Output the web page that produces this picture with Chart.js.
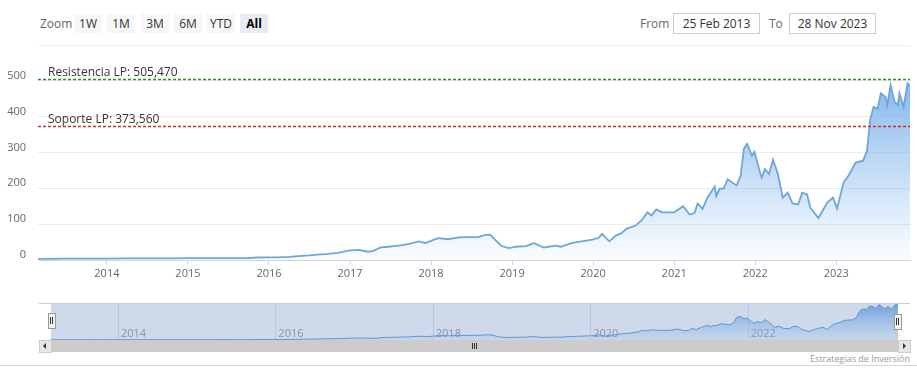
<!DOCTYPE html>
<html>
<head>
<meta charset="utf-8">
<script src="https://cdn.jsdelivr.net/npm/chart.js@4.4.1/dist/chart.umd.min.js"></script>
<style>
  html,body{margin:0;padding:0;background:#fff;width:917px;height:377px;overflow:hidden;font-family:"Open Sans",sans-serif;}
  .abs{position:absolute;}
  .btn{position:absolute;top:14px;height:19px;width:28px;background:#f7f7f7;color:#333;font-size:12px;line-height:19px;text-align:center;}
  .btn.sel{background:#e6ebf5;color:#000;font-weight:bold;}
  .lbl{position:absolute;top:14px;height:19px;line-height:19px;font-size:12px;color:#666;}
  .inp{position:absolute;top:13px;height:19px;line-height:19px;border:1px solid #ccc;font-size:12px;color:#333;text-align:center;}
</style>
</head>
<body>
<div class="lbl" style="left:40px;">Zoom</div>
<div class="btn" style="left:74px;">1W</div>
<div class="btn" style="left:107px;">1M</div>
<div class="btn" style="left:141px;">3M</div>
<div class="btn" style="left:174px;">6M</div>
<div class="btn" style="left:207px;">YTD</div>
<div class="btn sel" style="left:240px;">All</div>
<div class="lbl" style="left:640px;">From</div>
<div class="inp" style="left:673px;width:85px;">25 Feb 2013</div>
<div class="lbl" style="left:769px;">To</div>
<div class="inp" style="left:789px;width:85px;">28 Nov 2023</div>

<canvas id="main" class="abs" style="left:0;top:0;" width="917" height="290"></canvas>

<div class="abs" style="left:39px;top:303px;width:871px;height:1px;background:#ccc;"></div>
<canvas id="nav" class="abs" style="left:51px;top:304px;" width="847" height="36"></canvas>
<!-- navigator handles -->
<div class="abs" style="left:48px;top:313px;width:6px;height:14px;background:#f2f2f2;border:1px solid #999;"></div>
<div class="abs" style="left:50px;top:317px;width:1px;height:7px;background:#333;"></div>
<div class="abs" style="left:52px;top:317px;width:1px;height:7px;background:#333;"></div>
<div class="abs" style="left:894px;top:314px;width:6px;height:14px;background:#f2f2f2;border:1px solid #999;"></div>
<div class="abs" style="left:896px;top:318px;width:1px;height:7px;background:#333;"></div>
<div class="abs" style="left:898px;top:318px;width:1px;height:7px;background:#333;"></div>
<!-- scrollbar -->
<div class="abs" style="left:39px;top:340px;width:871px;height:12px;background:#f2f2f2;"></div>
<div class="abs" style="left:51px;top:340px;width:847px;height:12px;background:#cccccc;"></div>
<div class="abs" style="left:39px;top:340px;width:11px;height:11px;background:#e6e6e6;border:1px solid #ccc;"></div>
<div class="abs" style="left:43px;top:343px;width:0;height:0;border-top:3px solid transparent;border-bottom:3px solid transparent;border-right:3px solid #333;"></div>
<div class="abs" style="left:898px;top:340px;width:11px;height:11px;background:#e6e6e6;border:1px solid #ccc;"></div>
<div class="abs" style="left:903px;top:343px;width:0;height:0;border-top:3px solid transparent;border-bottom:3px solid transparent;border-left:3px solid #333;"></div>
<div class="abs" style="left:472px;top:343px;width:1px;height:6px;background:#333;"></div>
<div class="abs" style="left:474px;top:343px;width:1px;height:6px;background:#333;"></div>
<div class="abs" style="left:476px;top:343px;width:1px;height:6px;background:#333;"></div>

<div class="abs" style="right:7px;top:352px;font-size:9px;color:#999;">Estrategias de Inversión</div>
<div class="abs" style="left:0;top:365px;width:917px;height:1px;background:#d8d8d8;"></div>

<script>
// ---- data (decimal years, price) ----
const timeYears = [
  2013.15,2013.3,2013.45,2013.6,2013.75,2013.9,2014.0,2014.2,2014.4,2014.6,2014.8,
  2015.0,2015.2,2015.4,2015.55,2015.74,2015.85,2016.0,2016.1,2016.25,2016.36,2016.5,
  2016.6,2016.73,2016.85,2016.98,2017.1,2017.22,2017.28,2017.38,2017.47,2017.6,2017.72,
  2017.85,2017.93,2018.03,2018.09,2018.21,2018.34,2018.46,2018.58,2018.67,2018.73,2018.8,
  2018.87,2018.96,2019.05,2019.17,2019.27,2019.39,2019.54,2019.6,2019.73,2019.86,2019.99,
  2020.07,2020.11,2020.2,2020.28,2020.35,2020.41,2020.53,2020.6,2020.67,2020.72,2020.78,
  2020.85,2021.0,2021.11,2021.19,2021.25,2021.29,2021.35,2021.41,2021.5,2021.52,2021.56,
  2021.61,2021.66,2021.77,2021.82,2021.86,2021.9,2021.96,2021.99,2022.06,2022.08,2022.12,
  2022.17,2022.22,2022.28,2022.34,2022.4,2022.46,2022.53,2022.58,2022.64,2022.68,2022.78,
  2022.89,2022.96,2023.01,2023.09,2023.15,2023.24,2023.33,2023.38,2023.42,2023.46,2023.51,
  2023.55,2023.61,2023.63,2023.67,2023.72,2023.76,2023.78,2023.83,2023.88,2023.91
];
const prices = [
  3.2,3.4,3.6,3.7,3.8,3.9,4.0,4.6,4.7,4.6,4.8,
  5.0,5.3,5.5,5.0,5.5,7.0,7.5,7.2,9,11,13,
  15,17,20,26,28,23,25,35,37,40,44,
  52,47,56,61,58,63,64,64,70,71,54,
  39,33,37,39,47,35,40,37,47,52,57,
  62,73,52,68,75,87,97,111,133,124,141,
  133,133,150,127,131,158,143,174,205,178,199,
  199,225,208,235,310,324,291,302,244,230,254,
  240,280,240,174,188,158,155,188,183,146,117,
  160,174,144,216,235,272,277,305,394,427,422,
  465,455,432,488,441,432,465,427,493,486
];
const yearTicks = [2014,2015,2016,2017,2018,2019,2020,2021,2022,2023];
const navYearTicks = [2014,2016,2018,2020,2022];
const priceTicks = [0,100,200,300,400,500,600];
const plotLines = [
  {label:'Resistencia LP: 505,470', value:505.47, color:'#2f8f2f'},
  {label:'Soporte LP: 373,560', value:373.56, color:'#c42f2f'}
];
const X_MIN = 2013.15, X_MAX = 2023.91;
const FONT = '"Open Sans", sans-serif';

const points = timeYears.map((t,i)=>({x:t,y:prices[i]}));

const plotLinePlugin = {
  id:'plotLines',
  afterDatasetsDraw(chart){
    const {ctx, chartArea:a, scales:{y}} = chart;
    ctx.save();
    plotLines.forEach(p=>{
      const py = Math.round(y.getPixelForValue(p.value))+0.5;
      ctx.strokeStyle = p.color; ctx.lineWidth = 1.3; ctx.setLineDash([3,2]);
      ctx.beginPath(); ctx.moveTo(a.left,py); ctx.lineTo(a.right,py); ctx.stroke();
      ctx.setLineDash([]);
      ctx.fillStyle = '#333'; ctx.font = '12px '+FONT; ctx.textBaseline='alphabetic'; ctx.textAlign='left';
      ctx.fillText(p.label, a.left+10, py-4);
    });
    ctx.restore();
  }
};

function mainGradient(ctx, area){
  const g = ctx.createLinearGradient(0, area.top+35, 0, area.bottom);
  g.addColorStop(0,'rgba(110,170,232,0.85)');
  g.addColorStop(1,'rgba(124,181,236,0.03)');
  return g;
}

new Chart(document.getElementById('main'),{
  type:'line',
  data:{datasets:[{data:points, borderColor:'#6ea6dc', borderWidth:1.8, pointRadius:0, tension:0,
    fill:'origin',
    backgroundColor:(c)=>{const a=c.chart.chartArea; if(!a) return 'rgba(124,181,236,0.3)'; return mainGradient(c.chart.ctx,a);} }]},
  options:{
    responsive:false, animation:false, events:[],
    layout:{padding:{top:45,right:7,left:0,bottom:0}},
    plugins:{legend:{display:false}, tooltip:{enabled:false}},
    scales:{
      x:{type:'linear', min:X_MIN, max:X_MAX,
        afterBuildTicks:s=>{s.ticks = yearTicks.map(v=>({value:v}));},
        ticks:{callback:v=>String(v), color:'#666', font:{size:11,family:FONT}, padding:2, maxRotation:0, autoSkip:false},
        grid:{drawOnChartArea:false, drawTicks:true, tickLength:5, color:'#ccd6eb'},
        border:{color:'#ccd6eb'},
        afterFit:s=>{s.height=30;}
      },
      y:{min:0, max:600,
        afterBuildTicks:s=>{s.ticks = priceTicks.map(v=>({value:v}));},
        ticks:{callback:v=> v===600?'':String(v), color:'#666', font:{size:11,family:FONT}, padding:12, labelOffset:-5},
        grid:{color:'#ececec', drawTicks:false},
        border:{display:false},
        afterFit:s=>{s.width=38;}
      }
    }
  },
  plugins:[plotLinePlugin]
});

const navPlugin = {
  id:'navDecor',
  beforeDatasetsDraw(chart){
    const {ctx, chartArea:a, scales:{x}} = chart;
    ctx.save();
    ctx.fillStyle = '#cfd9ec';
    ctx.fillRect(a.left,a.top,a.right-a.left,a.bottom-a.top);
    ctx.strokeStyle = '#bcc7dc'; ctx.lineWidth=1;
    navYearTicks.forEach(v=>{
      const px = Math.round(x.getPixelForValue(v))+0.5;
      ctx.beginPath(); ctx.moveTo(px,a.top); ctx.lineTo(px,a.bottom); ctx.stroke();
    });
    ctx.fillStyle = '#8a93a3'; ctx.font = '11px '+FONT; ctx.textAlign='left'; ctx.textBaseline='alphabetic';
    navYearTicks.forEach(v=>{
      const px = x.getPixelForValue(v);
      ctx.fillText(String(v), px+3, a.bottom-3);
    });
    ctx.restore();
  }
};

new Chart(document.getElementById('nav'),{
  type:'line',
  data:{datasets:[{data:points, borderColor:'#5f97d3', borderWidth:1, pointRadius:0, tension:0, fill:'origin',
    backgroundColor:(c)=>{const a=c.chart.chartArea; if(!a) return 'rgba(90,150,215,0.4)';
      const g=c.chart.ctx.createLinearGradient(0,a.top,0,a.bottom);
      g.addColorStop(0,'rgba(80,140,210,0.75)'); g.addColorStop(1,'rgba(124,181,236,0.1)'); return g;} }]},
  options:{
    responsive:false, animation:false, events:[],
    layout:{padding:0},
    plugins:{legend:{display:false}, tooltip:{enabled:false}},
    scales:{
      x:{type:'linear', display:false, min:X_MIN, max:X_MAX},
      y:{display:false, min:0, max:495}
    }
  },
  plugins:[navPlugin]
});
</script>
</body>
</html>
